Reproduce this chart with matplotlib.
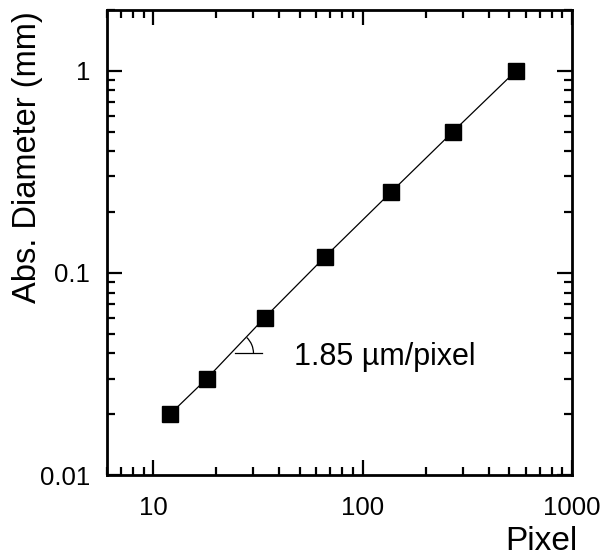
import matplotlib
matplotlib.use("Agg")
import matplotlib.pyplot as plt
import matplotlib.transforms as mtransforms
from matplotlib.patches import Arc

# calibration data
pixels = [12, 18, 34, 66, 136, 270, 540]
diameter_mm = [0.02, 0.03, 0.06, 0.12, 0.25, 0.5, 1.0]
x_ticks = [10, 100, 1000]
x_tick_labels = ["10", "100", "1000"]
y_ticks = [0.01, 0.1, 1]
y_tick_labels = ["0.01", "0.1", "1"]
note = "1.85 \u00b5m/pixel"

plt.rcParams['font.family'] = ['Liberation Sans', 'DejaVu Sans']

fig = plt.figure(figsize=(6.03, 5.57), dpi=100)
ax = fig.add_axes([107/603, 1 - 475/557, 465/603, 465/557])

ax.plot(pixels, diameter_mm, color='black', lw=0.9, marker='s', ms=11,
        mfc='black', mec='black')

ax.set_xscale('log')
ax.set_yscale('log')
ax.set_xlim(6, 1000)
ax.set_ylim(0.01, 2)
ax.set_xticks(x_ticks)
ax.set_xticklabels(x_tick_labels)
ax.set_yticks(y_ticks)
ax.set_yticklabels(y_tick_labels)

ax.tick_params(which='both', direction='in', top=True, right=True, width=1.6)
ax.tick_params(which='major', length=11, labelsize=18.5)
ax.tick_params(which='minor', length=6)
ax.tick_params(axis='x', which='major', pad=15)
ax.tick_params(axis='y', which='major', pad=12)
for s in ax.spines.values():
    s.set_linewidth(2)

ax.set_xlabel("Pixel", fontsize=24, loc='right')
ax.xaxis.set_label_coords(1 + 5/465, -51/465)
ax.set_ylabel("Abs. Diameter (mm)", fontsize=23.5, loc='top')
ax.yaxis.set_label_coords(-0.1376, 0.998)

# slope marker
x0, y0 = 23.6, 0.04
ax.plot([24.6, 32.9], [y0, y0], color='black', lw=0.9)
trans = fig.dpi_scale_trans + mtransforms.ScaledTranslation(x0, y0, ax.transData)
ax.add_patch(Arc((0, 0), 0.44, 0.44, theta1=0, theta2=46, transform=trans,
                 color='black', lw=0.9))
ax.text(47, 0.0385, note, fontsize=22, ha='left', va='center')

fig.savefig("out.png", dpi=100)
